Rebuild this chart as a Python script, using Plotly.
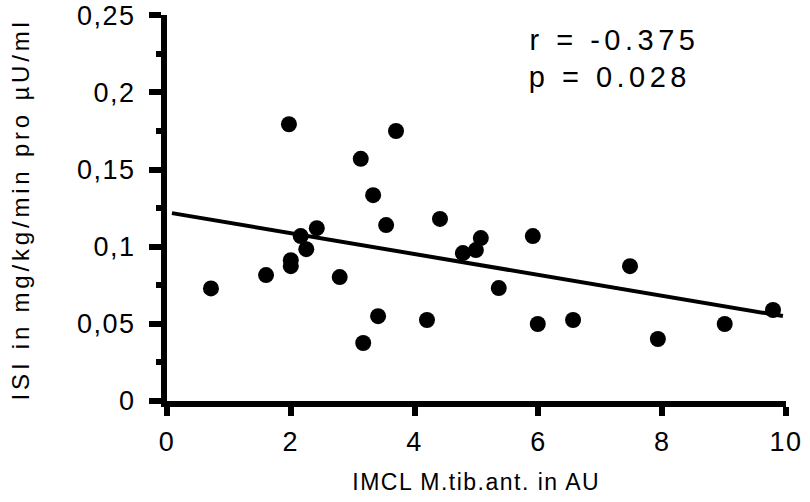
import plotly.graph_objects as go

# Data
imcl = [0.71, 1.60, 2.00, 2.00, 1.97, 2.16, 2.25, 2.42, 2.79, 3.13, 3.17, 3.33, 3.41, 3.54,
        3.70, 4.20, 4.41, 4.78, 4.99, 5.07, 5.36, 5.91, 5.99, 6.56, 7.48, 7.93, 9.01, 9.79]
isi = [0.073, 0.0816, 0.0913, 0.0874, 0.1794, 0.1069, 0.0984, 0.112, 0.0803, 0.157, 0.0376,
       0.1334, 0.055, 0.114, 0.175, 0.0525, 0.118, 0.0959, 0.0978, 0.1056, 0.0732, 0.1069,
       0.0499, 0.0525, 0.0874, 0.0402, 0.0499, 0.059]

fit_intercept = 0.1223
fit_slope = -0.00676
fit_x = [0.08, 9.95]
fit_y = [fit_intercept + fit_slope * v for v in fit_x]

x_ticks = [0, 2, 4, 6, 8, 10]
y_ticks = [0, 0.05, 0.1, 0.15, 0.2, 0.25]
y_minor = [0.025, 0.075, 0.125, 0.175, 0.225]

stat_lines = ["r = -0.375", "p = 0.028"]
x_title = "IMCL M.tib.ant. in AU"
y_title = "ISI in mg/kg/min pro µU/ml"

FONT = "Liberation Sans, Arial, sans-serif"
L, R, T, B, W, H = 167, 24, 15, 101, 810, 502

fig = go.Figure()
fig.add_trace(go.Scatter(x=fit_x, y=fit_y, mode="lines",
                         line=dict(color="black", width=4), showlegend=False))
fig.add_trace(go.Scatter(x=imcl, y=isi, mode="markers",
                         marker=dict(color="black", size=16, line=dict(width=0)),
                         showlegend=False))

fig.update_layout(
    width=W, height=H,
    margin=dict(l=L, r=R, t=T, b=B),
    paper_bgcolor="white", plot_bgcolor="white",
    separators=",.",
    font=dict(family=FONT, size=24, color="black"),
    xaxis=dict(range=[0, 10], tickmode="array", tickvals=x_ticks,
               showline=True, linecolor="black", linewidth=6,
               ticks="outside", ticklen=9, tickwidth=6, tickcolor="black",
               showgrid=False, zeroline=False, automargin=False,
               tickfont=dict(size=27), ticklabelstandoff=3),
    yaxis=dict(range=[0, 0.2502], tickmode="array", tickvals=y_ticks,
               showline=True, linecolor="black", linewidth=6,
               ticks="outside", ticklen=12, tickwidth=6, tickcolor="black",
               showgrid=False, zeroline=False, automargin=False,
               tickfont=dict(size=27), ticklabelstandoff=8,
               minor=dict(ticks="outside", ticklen=5, tickwidth=6, tickcolor="black",
                          tickvals=y_minor, showgrid=False)),
)

# letter spacing (px) applied to each annotation, in order of creation
ann_spacing = []

def px2paper(px, py):
    return (px - L) / (W - L - R), (H - B - py) / (H - T - B)

def add_text(text, px, py, size, spacing, xanchor="left", angle=0):
    # annotation text is centred in its box, so extra letter spacing grows both ways
    if xanchor == "left":
        px = px + len(text) * spacing / 2
    x, y = px2paper(px, py)
    fig.add_annotation(x=x, y=y, xref="paper", yref="paper", text=text,
                       showarrow=False, xanchor=xanchor, yanchor="middle",
                       textangle=angle, font=dict(size=size))
    ann_spacing.append(spacing)

add_text(stat_lines[0], 527, 40, 29, 4.5)
add_text(stat_lines[1], 527, 77, 29, 4.5)
add_text(x_title, 476, 482, 23, 1.5, xanchor="center")
add_text(y_title, 20, 210, 24, 3.8, xanchor="center", angle=-90)

post = """
var gd = document.getElementById('{plot_id}');
function sp(sel, v){ gd.querySelectorAll(sel).forEach(function(t){ t.style.letterSpacing = v; }); }
sp('.xtick text', '1.5px');
sp('.ytick text', '1.5px');
var spacing = %s;
gd.querySelectorAll('.annotation-text').forEach(function(t, i){
  t.style.letterSpacing = (spacing[i] !== undefined ? spacing[i] : 2) + 'px';
});
""" % str(ann_spacing)
fig.write_html("out.html", post_script=post)
